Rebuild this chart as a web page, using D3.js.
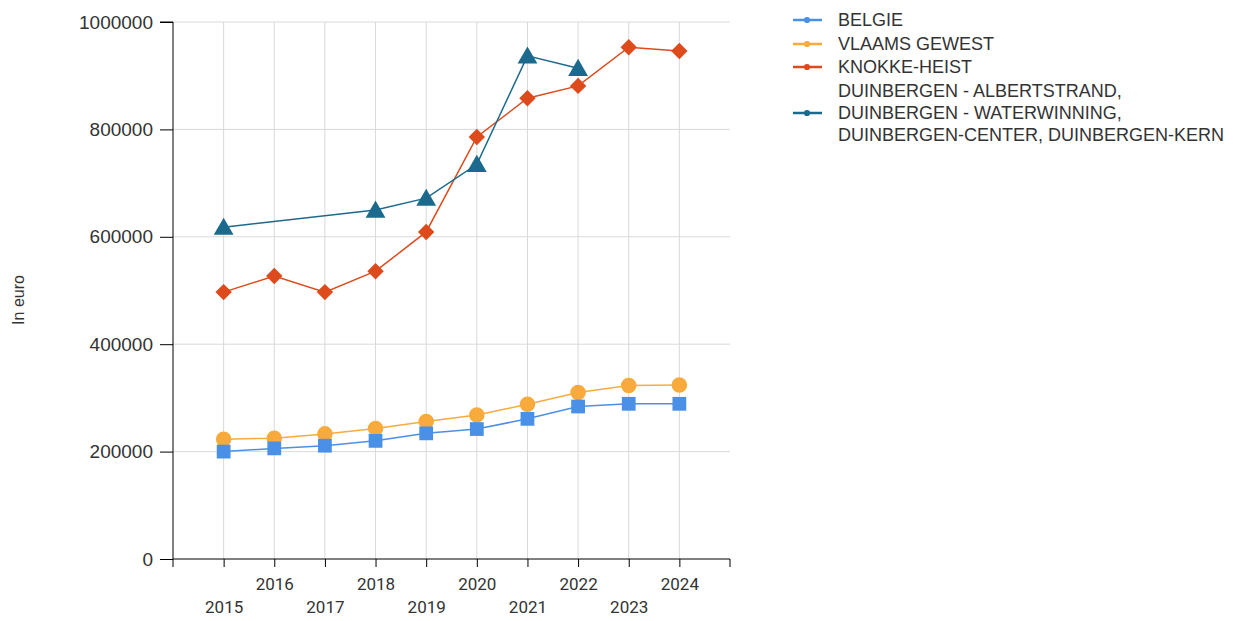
<!DOCTYPE html>
<html>
<head>
<meta charset="utf-8">
<script src="https://cdn.jsdelivr.net/npm/d3@7"></script>
<style>
  html, body { margin: 0; padding: 0; background: #fff; }
  svg { display: block; }
  text { font-family: "Liberation Sans", Arial, sans-serif; fill: #333; }
</style>
</head>
<body>
<svg id="chart" width="1235" height="621"></svg>
<script>
const years = [2015, 2016, 2017, 2018, 2019, 2020, 2021, 2022, 2023, 2024];
const belgie = [200000, 206000, 211000, 220000, 234000, 242000, 261000, 284000, 289000, 289000];
const vlaams = [223000, 225000, 233000, 243000, 256000, 268000, 288000, 310000, 323000, 324000];
const knokke = [497000, 527000, 497000, 536000, 609000, 786000, 858000, 881000, 953000, 946000];
const duinbergen = [618000, null, null, 650000, 672000, 735000, 937000, 914000, null, null];
const yTicks = [0, 200000, 400000, 600000, 800000, 1000000];
const seriesNames = ["BELGIE", "VLAAMS GEWEST", "KNOKKE-HEIST",
  ["DUINBERGEN - ALBERTSTRAND,", "DUINBERGEN - WATERWINNING,", "DUINBERGEN-CENTER, DUINBERGEN-KERN"]];
const yLabel = "In euro";

const series = [
  {name: seriesNames[0], values: belgie, color: "#4a90e6", symbol: d3.symbolSquare, size: 190, rot: 0},
  {name: seriesNames[1], values: vlaams, color: "#f8ab3c", symbol: d3.symbolCircle, size: 190, rot: 0},
  {name: seriesNames[2], values: knokke, color: "#dd4a1c", symbol: d3.symbolSquare, size: 135, rot: 45},
  {name: seriesNames[3], values: duinbergen, color: "#1b6a8e", symbol: d3.symbolTriangle, size: 170, rot: 0}
];

const svg = d3.select("#chart");
const x = d3.scaleLinear().domain([2014, 2025]).range([173, 730]);
const y = d3.scaleLinear().domain([0, 1000000]).range([559, 22]);

// grid
const grid = svg.append("g");
grid.selectAll("line.h").data(yTicks.filter(d => d > 0)).enter().append("line")
  .attr("x1", x(2014)).attr("x2", x(2025))
  .attr("y1", d => y(d)).attr("y2", d => y(d))
  .attr("stroke", "#d9d9d9").attr("stroke-width", 1);
grid.selectAll("line.v").data(years).enter().append("line")
  .attr("x1", d => x(d)).attr("x2", d => x(d))
  .attr("y1", y(0)).attr("y2", y(1000000))
  .attr("stroke", "#d9d9d9").attr("stroke-width", 1);

// y axis
const yAxis = d3.axisLeft(y).tickValues(yTicks).tickSize(13).tickPadding(7).tickFormat(d3.format("d"));
const gy = svg.append("g").attr("transform", `translate(${x(2014)},0)`).call(yAxis);
gy.select(".domain").attr("stroke", "#000").attr("d", `M-13,${y(1000000)}H0V${y(0) + 8}`);
gy.selectAll(".tick line").attr("stroke", "#000");
gy.selectAll(".tick text").style("font-size", "19px").attr("fill", "#333");

// x axis
const xAxis = d3.axisBottom(x).tickValues(years).tickSize(8).tickFormat(d3.format("d"));
const gx = svg.append("g").attr("transform", `translate(0,${y(0)})`).call(xAxis);
gx.select(".domain").attr("stroke", "#000").attr("d", `M${x(2014)},0H${x(2025)}V8`);
gx.selectAll(".tick line").attr("stroke", "#000");
gx.selectAll(".tick text")
  .style("font-size", "17px").style("font-family", "Roboto, sans-serif").attr("fill", "#333")
  .attr("y", d => (d % 2 === 0 ? 31 : 54)).attr("dy", "0");

// y label
svg.append("text").attr("transform", "translate(24,300) rotate(-90)")
  .attr("text-anchor", "middle").style("font-size", "16px").text(yLabel);

// series: draw lines, then markers; orange before blue
const drawOrder = [1, 0, 2, 3];
const line = d3.line().x(d => x(d[0])).y(d => y(d[1]));
drawOrder.forEach(i => {
  const s = series[i];
  const pts = years.map((yr, j) => [yr, s.values[j]]).filter(d => d[1] != null);
  svg.append("path").datum(pts).attr("d", line).attr("fill", "none")
    .attr("stroke", s.color).attr("stroke-width", 1.5);
});
drawOrder.forEach(i => {
  const s = series[i];
  const pts = years.map((yr, j) => [yr, s.values[j]]).filter(d => d[1] != null);
  svg.append("g").selectAll("path").data(pts).enter().append("path")
    .attr("d", d3.symbol().type(s.symbol).size(s.size))
    .attr("transform", d => `translate(${x(d[0])},${y(d[1]) + (s.symbol === d3.symbolTriangle ? 2 : 0)}) rotate(${s.rot})`)
    .attr("fill", s.color);
});

// legend
const legendRows = [20, 44, 67, 113];
const leg = svg.append("g");
series.forEach((s, i) => {
  const ly = legendRows[i];
  leg.append("line").attr("x1", 793).attr("x2", 822).attr("y1", ly).attr("y2", ly)
    .attr("stroke", s.color).attr("stroke-width", 2.5);
  leg.append("path").attr("d", d3.symbol().type(d3.symbolCircle).size(30))
    .attr("transform", `translate(807,${ly})`).attr("fill", s.color);
  const names = Array.isArray(s.name) ? s.name : [s.name];
  const t = leg.append("text").attr("x", 838).style("font-size", "18px");
  names.forEach((n, k) => {
    t.append("tspan").attr("x", 838)
      .attr("y", ly + 6 + (k - (names.length - 1) / 2) * 22).text(n);
  });
});
</script>
</body>
</html>
